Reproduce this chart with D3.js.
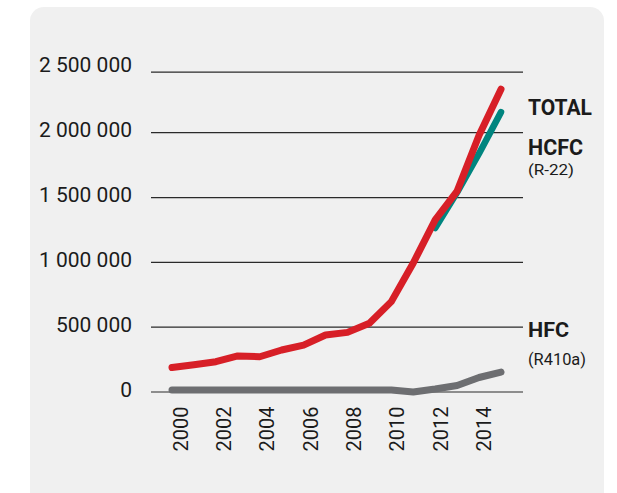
<!DOCTYPE html>
<html>
<head>
<meta charset="utf-8">
<script src="https://cdn.jsdelivr.net/npm/d3@7/dist/d3.min.js"></script>
<style>
  html, body { margin: 0; padding: 0; background: #ffffff; }
  svg { display: block; }
  text { font-family: Roboto, "Noto Sans", "DejaVu Sans", sans-serif; fill: #1b1b1b; }
</style>
</head>
<body>
<svg id="chart" width="617" height="493"></svg>
<script>
// Refrigerant quantities per year
const years = [2000, 2001, 2002, 2003, 2004, 2005, 2006, 2007, 2008, 2009, 2010, 2011, 2012, 2013, 2014, 2015];
const totalValues = [189000, 210000, 234000, 278000, 272000, 324000, 362000, 440000, 460000, 530000, 697000, 995000, 1327000, 1550000, 1980000, 2360000];
const hfcValues = [15000, 15000, 15000, 15000, 15000, 15000, 15000, 15000, 15000, 15000, 15000, 0, 23000, 50000, 112000, 154000];
const hcfcYears = [2012, 2013, 2014, 2015];
const hcfcValues = [1265000, 1540000, 1840000, 2170000];

// Axis ticks
const yTicks = [0, 500000, 1000000, 1500000, 2000000, 2500000];
const yTickLabels = ["0", "500 000", "1 000 000", "1 500 000", "2 000 000", "2 500 000"];
const xTickYears = [2000, 2002, 2004, 2006, 2008, 2010, 2012, 2014];

const svg = d3.select("#chart");

// Panel background
svg.append("rect")
  .attr("x", 30).attr("y", 7)
  .attr("width", 574).attr("height", 510)
  .attr("rx", 14).attr("ry", 14)
  .attr("fill", "#f0f0f0");

// Scales
const x = d3.scaleLinear().domain([2000, 2015]).range([172, 501]);
const y = d3.scaleLinear().domain([0, 2000000, 2500000]).range([392, 132.7, 72.2]);
const yLabel = d3.scaleLinear().domain([0, 2500000]).range([397, 72]);
const xLabel = d3.scaleLinear().domain([2000, 2014]).range([187.8, 491]);

// Horizontal gridlines
svg.append("g").selectAll("line")
  .data(yTicks)
  .join("line")
  .attr("x1", 151).attr("x2", 523)
  .attr("y1", d => y(d)).attr("y2", d => y(d))
  .attr("stroke", "#2a2a2a")
  .attr("stroke-width", 1.2);

// Y tick labels
svg.append("g").selectAll("text")
  .data(yTicks)
  .join("text")
  .attr("x", 132)
  .attr("y", d => yLabel(d))
  .attr("text-anchor", "end")
  .attr("font-size", 21)
  .attr("font-weight", 400)
  .attr("fill", "#222")
  .text((d, i) => yTickLabels[i]);

// X tick labels (rotated)
svg.append("g").selectAll("text")
  .data(xTickYears)
  .join("text")
  .attr("transform", d => `translate(${xLabel(d)},406.5) rotate(-90)`)
  .attr("text-anchor", "end")
  .attr("font-size", 21)
  .attr("font-weight", 400)
  .attr("fill", "#222")
  .attr("textLength", 45)
  .attr("lengthAdjust", "spacingAndGlyphs")
  .text(d => d);

// Series lines
const line = d3.line()
  .x(d => x(d[0]))
  .y(d => y(d[1]))
  .curve(d3.curveLinear);

function drawSeries(xs, vs, color, width) {
  svg.append("path")
    .datum(xs.map((yr, i) => [yr, vs[i]]))
    .attr("d", line)
    .attr("fill", "none")
    .attr("stroke", color)
    .attr("stroke-width", width)
    .attr("stroke-linecap", "round")
    .attr("stroke-linejoin", "round");
}

drawSeries(years, hfcValues, "#6d6e71", 7);
drawSeries(hcfcYears, hcfcValues, "#00857f", 6.5);
drawSeries(years, totalValues, "#d71f27", 7);

// Series labels
const labels = svg.append("g");
labels.append("text")
  .attr("x", 528).attr("y", 115)
  .attr("font-size", 22).attr("font-weight", 700)
  .attr("textLength", 64).attr("lengthAdjust", "spacingAndGlyphs")
  .text("TOTAL");
labels.append("text")
  .attr("x", 528).attr("y", 155)
  .attr("font-size", 22).attr("font-weight", 700)
  .attr("textLength", 55).attr("lengthAdjust", "spacingAndGlyphs")
  .text("HCFC");
labels.append("text")
  .attr("x", 528).attr("y", 175)
  .attr("font-size", 15).attr("font-weight", 400)
  .attr("fill", "#222")
  .attr("textLength", 46).attr("lengthAdjust", "spacingAndGlyphs")
  .text("(R-22)");
labels.append("text")
  .attr("x", 528).attr("y", 336.5)
  .attr("font-size", 21).attr("font-weight", 700)
  .attr("textLength", 41).attr("lengthAdjust", "spacingAndGlyphs")
  .text("HFC");
labels.append("text")
  .attr("x", 528).attr("y", 365)
  .attr("font-size", 16).attr("font-weight", 400)
  .attr("fill", "#222")
  .attr("textLength", 58).attr("lengthAdjust", "spacingAndGlyphs")
  .text("(R410a)");
</script>
</body>
</html>
